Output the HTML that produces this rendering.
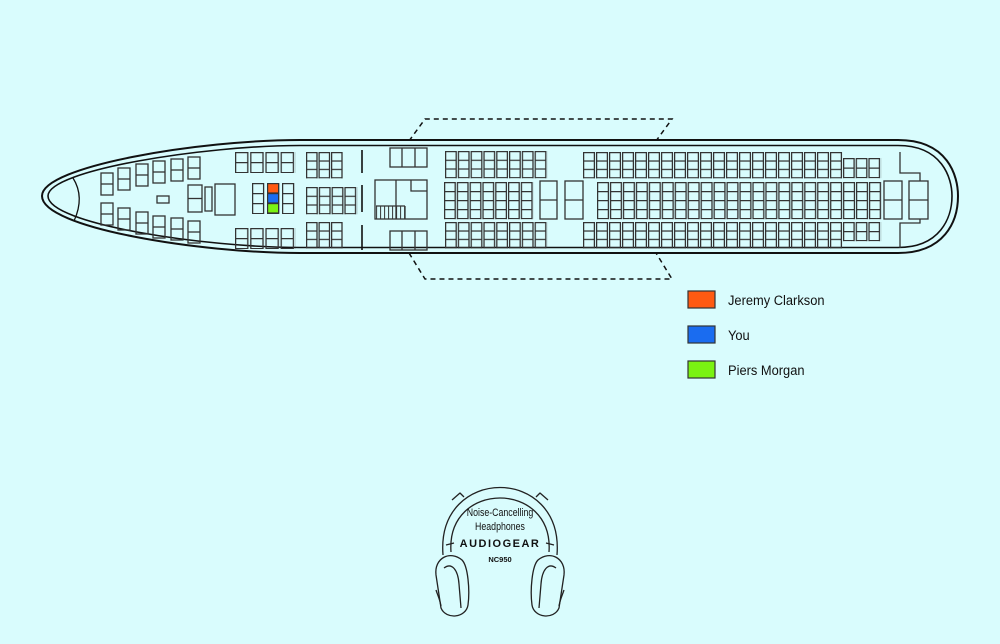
<!DOCTYPE html>
<html><head><meta charset="utf-8"><style>
html,body{margin:0;padding:0;background:#d9fcfd;}
svg{display:block}
.t{font-family:"Liberation Sans",sans-serif;}
</style></head><body>
<svg width="1000" height="644" viewBox="0 0 1000 644" xmlns="http://www.w3.org/2000/svg">
<defs>
<pattern id="p2" x="235" y="152" width="15.2" height="10" patternUnits="userSpaceOnUse"><path d="M0.6,0V10M12.8,0V10M0,0.6H13.4" stroke="#333" stroke-width="1.3" fill="none"/></pattern>
<pattern id="p2b" x="235" y="228" width="15.2" height="10" patternUnits="userSpaceOnUse"><path d="M0.6,0V10M12.8,0V10M0,0.6H13.4" stroke="#333" stroke-width="1.3" fill="none"/></pattern>
<pattern id="pm" x="252" y="183" width="15" height="10" patternUnits="userSpaceOnUse"><path d="M0.6,0V10M11.6,0V10M0,0.6H12.2" stroke="#333" stroke-width="1.3" fill="none"/></pattern>
<pattern id="p3" x="306" y="152" width="12.5" height="8.4" patternUnits="userSpaceOnUse"><path d="M0.6,0V8.4M11,0V8.4M0,0.6H11.6" stroke="#333" stroke-width="1.3" fill="none"/></pattern>
<pattern id="p3m" x="306" y="187" width="12.8" height="8.7" patternUnits="userSpaceOnUse"><path d="M0.6,0V8.7M11.2,0V8.7M0,0.6H11.8" stroke="#333" stroke-width="1.3" fill="none"/></pattern>
<pattern id="p3b" x="306" y="222" width="12.5" height="8.4" patternUnits="userSpaceOnUse"><path d="M0.6,0V8.4M11,0V8.4M0,0.6H11.6" stroke="#333" stroke-width="1.3" fill="none"/></pattern>
<pattern id="e1" x="445" y="151" width="12.8" height="8.7" patternUnits="userSpaceOnUse"><path d="M0.6,0V8.7M11.2,0V8.7M0,0.6H11.8" stroke="#333" stroke-width="1.3" fill="none"/></pattern>
<pattern id="e1m" x="444" y="182" width="12.8" height="9" patternUnits="userSpaceOnUse"><path d="M0.6,0V9M11.2,0V9M0,0.6H11.8" stroke="#333" stroke-width="1.3" fill="none"/></pattern>
<pattern id="e1b" x="445" y="222" width="12.8" height="8.4" patternUnits="userSpaceOnUse"><path d="M0.6,0V8.4M11.2,0V8.4M0,0.6H11.8" stroke="#333" stroke-width="1.3" fill="none"/></pattern>
<pattern id="e2" x="583" y="152" width="13" height="8.4" patternUnits="userSpaceOnUse"><path d="M0.6,0V8.4M11.4,0V8.4M0,0.6H12" stroke="#333" stroke-width="1.3" fill="none"/></pattern>
<pattern id="e2m" x="597" y="182" width="12.95" height="9" patternUnits="userSpaceOnUse"><path d="M0.6,0V9M11.4,0V9M0,0.6H12" stroke="#333" stroke-width="1.3" fill="none"/></pattern>
<pattern id="e2b" x="583" y="222" width="13" height="8.4" patternUnits="userSpaceOnUse"><path d="M0.6,0V8.4M11.4,0V8.4M0,0.6H12" stroke="#333" stroke-width="1.3" fill="none"/></pattern>
<pattern id="e3" x="843" y="158" width="12.7" height="9.5" patternUnits="userSpaceOnUse"><path d="M0.6,0V9.5M11.1,0V9.5M0,0.6H11.7" stroke="#333" stroke-width="1.3" fill="none"/></pattern>
<pattern id="e3b" x="843" y="222" width="12.7" height="9" patternUnits="userSpaceOnUse"><path d="M0.6,0V9M11.1,0V9M0,0.6H11.7" stroke="#333" stroke-width="1.3" fill="none"/></pattern>
<pattern id="st" x="376" y="206" width="4" height="14" patternUnits="userSpaceOnUse"><path d="M0.6,0V14" stroke="#333" stroke-width="1"/></pattern>
</defs>

<g fill="none" stroke="#111" stroke-width="1.5" stroke-dasharray="5,4">
<path d="M409,141 L425,119 L672,119 L656,141"/>
<path d="M409,253 L425,279 L672,279 L656,253"/>
</g>

<path d="M300,140 L898,140 C948,140 958,176 958,196 C958,222 944,253 898,253 L300,253 C200,253 42,228 42,196 C42,166 200,140 300,140 Z" fill="#d9fcfd" stroke="#111" stroke-width="2"/>
<path d="M300,145.5 L898,145.5 C942,145.5 952,178 952,196 C952,218 940,247.5 898,247.5 L300,247.5 C205,247.5 48,224 48,196 C48,170 205,145.5 300,145.5 Z" fill="none" stroke="#111" stroke-width="1.6"/>
<path d="M73,178 Q85,197 74,221" fill="none" stroke="#111" stroke-width="1.3"/>

<g fill="none" stroke="#333" stroke-width="1.3">
<rect x="101" y="173" width="12" height="22"/><path d="M101,184H113"/>
<rect x="118" y="168" width="12" height="22"/><path d="M118,179H130"/>
<rect x="136" y="164" width="12" height="22"/><path d="M136,175H148"/>
<rect x="153" y="161" width="12" height="22"/><path d="M153,172H165"/>
<rect x="171" y="159" width="12" height="22"/><path d="M171,170H183"/>
<rect x="188" y="157" width="12" height="22"/><path d="M188,168H200"/>
<rect x="101" y="203" width="12" height="22"/><path d="M101,214H113"/>
<rect x="118" y="208" width="12" height="22"/><path d="M118,219H130"/>
<rect x="136" y="212" width="12" height="22"/><path d="M136,223H148"/>
<rect x="153" y="216" width="12" height="22"/><path d="M153,227H165"/>
<rect x="171" y="218" width="12" height="22"/><path d="M171,229H183"/>
<rect x="188" y="221" width="12" height="22"/><path d="M188,232H200"/>
<rect x="157" y="196" width="12" height="7"/>
<rect x="188" y="185" width="14" height="27"/><path d="M188,198.5H202"/>
<rect x="205" y="187" width="7" height="24"/>
<rect x="215" y="184" width="20" height="31"/>
<rect x="390" y="148" width="37" height="19"/><path d="M402,148V167M415,148V167"/>
<rect x="390" y="231" width="37" height="19"/><path d="M402,231V250M415,231V250"/>
<rect x="375" y="180" width="52" height="39"/><path d="M396,180V219M411,180V191H427M405,206V219M376,206H405"/>
<rect x="540" y="181" width="17" height="38"/><path d="M540,200H557"/>
<rect x="565" y="181" width="18" height="38"/><path d="M565,200H583"/>
<rect x="884" y="181" width="18" height="38"/><path d="M884,200H902"/>
<rect x="909" y="181" width="19" height="38"/><path d="M909,200H928"/>
<path d="M900,152V173H920V181M920,219V223H900V248"/>
</g>
<g stroke="#111" stroke-width="1.6"><path d="M362,150V173M362,185V212M362,225V250"/></g>
<rect x="376" y="206" width="29" height="13" fill="url(#st)"/>

<rect x="235" y="152" width="60.8" height="21" fill="url(#p2)"/>
<rect x="235" y="228" width="60.8" height="21" fill="url(#p2b)"/>
<rect x="252" y="183" width="45" height="31" fill="url(#pm)"/>
<rect x="306" y="152" width="37.5" height="26.4" fill="url(#p3)"/>
<rect x="306" y="187" width="51.2" height="27.3" fill="url(#p3m)"/>
<rect x="306" y="222" width="37.5" height="26.4" fill="url(#p3b)"/>
<rect x="445" y="151" width="102.4" height="27.3" fill="url(#e1)"/>
<rect x="444" y="182" width="89.6" height="37.2" fill="url(#e1m)"/>
<rect x="445" y="222" width="102.4" height="26.4" fill="url(#e1b)"/>
<rect x="583" y="152" width="260" height="26.4" fill="url(#e2)"/>
<rect x="597" y="182" width="284.9" height="37.2" fill="url(#e2m)"/>
<rect x="583" y="222" width="260" height="26.4" fill="url(#e2b)"/>
<rect x="843" y="158" width="38.1" height="20.2" fill="url(#e3)"/>
<rect x="843" y="222" width="38.1" height="19.2" fill="url(#e3b)"/>

<rect x="267.6" y="183.6" width="11" height="9.4" fill="#ff5a12" stroke="#333" stroke-width="1.2"/>
<rect x="267.6" y="193.6" width="11" height="9.4" fill="#1a6cf0" stroke="#333" stroke-width="1.2"/>
<rect x="267.6" y="203.6" width="11" height="9.4" fill="#7af212" stroke="#333" stroke-width="1.2"/>

<rect x="688" y="291" width="27" height="17" fill="#ff5a12" stroke="#333" stroke-width="1.2"/>
<rect x="688" y="326" width="27" height="17" fill="#1a6cf0" stroke="#333" stroke-width="1.2"/>
<rect x="688" y="361" width="27" height="17" fill="#7af212" stroke="#333" stroke-width="1.2"/>
<g class="t" font-size="14" fill="#111">
<text x="728" y="305" transform="translate(728 0) scale(0.92 1) translate(-728 0)">Jeremy Clarkson</text>
<text x="728" y="340" transform="translate(728 0) scale(0.92 1) translate(-728 0)">You</text>
<text x="728" y="375" transform="translate(728 0) scale(0.92 1) translate(-728 0)">Piers Morgan</text>
</g>

<!-- headphones -->
<g fill="none" stroke="#222" stroke-width="1.3" stroke-linejoin="round">
<path d="M443,555 C436,465 564,465 557,555"/>
<path d="M451,552 C446,480 554,480 549,552"/>
<path d="M452,500 l8,-7 l4,4 M548,500 l-8,-7 l-4,4"/>
<path d="M446,545 l8,-2 M554,545 l-8,-2"/>
<path d="M436,575 C434,558 450,550 462,560 C468,566 470,590 468,605 C466,618 446,620 441,608 Z"/>
<path d="M444,568 C452,562 458,570 459,584 L461,608"/>
<path d="M436,590 C438,596 440,600 441,606"/>
<path d="M564,575 C566,558 550,550 538,560 C532,566 530,590 532,605 C534,618 554,620 559,608 Z"/>
<path d="M556,568 C548,562 542,570 541,584 L539,608"/>
<path d="M564,590 C562,596 560,600 559,606"/>
</g>
<g class="t" fill="#111" text-anchor="middle">
<text x="500" y="516" font-size="11" transform="translate(500 0) scale(0.8 1) translate(-500 0)">Noise-Cancelling</text>
<text x="500" y="530" font-size="11" transform="translate(500 0) scale(0.8 1) translate(-500 0)">Headphones</text>
<text x="500" y="547" font-size="11" font-weight="bold" letter-spacing="1.5">AUDIOGEAR</text>
<text x="500" y="562" font-size="7.5" font-weight="bold">NC950</text>
</g>
</svg>
</body></html>
